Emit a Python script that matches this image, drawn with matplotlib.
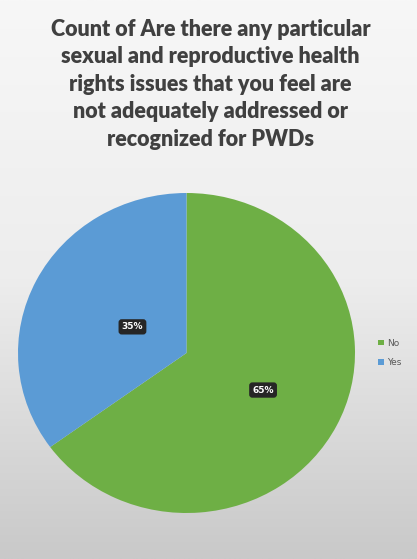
import numpy as np
import matplotlib
matplotlib.use('Agg')
import matplotlib.pyplot as plt

labels = ["No", "Yes"]
values = [65, 35]
colors = ["#6EAF45", "#5B9BD5"]
title = ("Count of Are there any particular\nsexual and reproductive health\n"
         "rights issues that you feel are\nnot adequately addressed or\n"
         "recognized for PWDs")

W, H = 417, 559
fig = plt.figure(figsize=(W / 100, H / 100), dpi=100)

# background: white at top fading to light grey
bg = fig.add_axes([0, 0, 1, 1])
grad = np.linspace(0, 1, 256)[:, None]
bg.imshow(grad, aspect="auto", cmap=matplotlib.colors.LinearSegmentedColormap.from_list(
    "bg", ["#F7F7F7", "#EDEDED", "#C9C9C9"]), extent=[0, 1, 0, 1])
bg.set_xlim(0, 1)
bg.set_ylim(0, 1)
bg.axis("off")

fig.text(0.505, 0.966, title, ha="center", va="top", fontsize=15.5,
         fontweight="heavy", color="#404040", family="Lato", linespacing=1.38)

# pie slightly wider than tall
ax = fig.add_axes([18 / W, 46 / H, 337 / W, 320 / H])
wedges, texts, autotexts = ax.pie(values, colors=colors, startangle=90, counterclock=False,
                                  autopct="%d%%", radius=1, frame=False,
                                  textprops=dict(color="white", fontsize=6.5, fontweight="bold"))
ax.set_aspect("auto")
ax.set_xlim(-1, 1)
ax.set_ylim(-1, 1)
ax.axis("off")

# move labels to where they sit on the slices
dist = [0.51, 0.36]
for t, w, d in zip(autotexts, wedges, dist):
    ang = np.deg2rad((w.theta1 + w.theta2) / 2)
    t.set_position((d * np.cos(ang), d * np.sin(ang)))
    t.set_bbox(dict(boxstyle="round,pad=0.35", fc="#262626", ec="none"))

leg = fig.legend(wedges, labels, loc="center left", bbox_to_anchor=(370 / W, 1 - 353 / H),
                 frameon=False, fontsize=6.5, handlelength=0.6, handleheight=0.6,
                 handletextpad=0.4, labelspacing=1.2, labelcolor="#595959")

fig.savefig("out.png", dpi=100)
